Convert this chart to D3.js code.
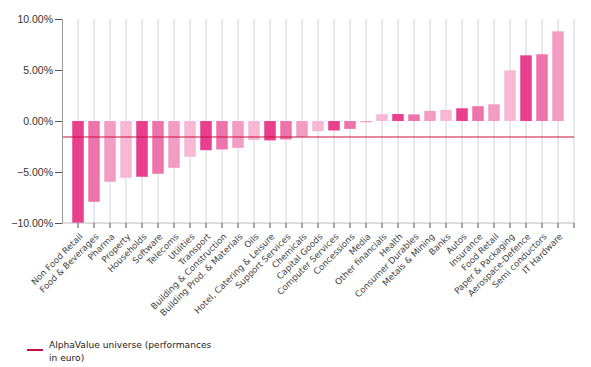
<!DOCTYPE html>
<html>
<head>
<meta charset="utf-8">
<script src="https://cdn.jsdelivr.net/npm/d3@7"></script>
<style>
html,body{margin:0;padding:0;background:#fff;}
svg{display:block;}
</style>
</head>
<body>
<svg id="chart" width="591" height="367"></svg>
<script>
const categories = ["Non Food Retail","Food & Beverages","Pharma","Property","Households","Software","Telecoms","Utilities","Transport","Building & Construction","Building Prod. & Materials","Oils","Hotel, Catering & Leisure","Support Services","Chemicals","Capital Goods","Computer Services","Concessions","Media","Other financials","Health","Consumer Durables","Metals & Mining","Banks","Autos","Insurance","Food Retail","Paper & Packaging","Aerospace-Defence","Semi conductors","IT Hardware"];
const performance = [-10.0,-7.92,-5.96,-5.57,-5.47,-5.17,-4.59,-3.51,-2.86,-2.79,-2.63,-1.88,-1.9,-1.81,-1.55,-1.0,-0.93,-0.77,-0.12,0.67,0.68,0.65,0.99,1.09,1.25,1.45,1.64,4.97,6.44,6.54,8.79];
const universe = -1.57;
const yTicks = [-10,-5,0,5,10];
const legendLabel = ["AlphaValue universe (performances","in euro)"];

const palette = ["#ea3f8f","#ef73ab","#f49bc3","#f8b7d4"];

const svg = d3.select("#chart");
const pLeft = 62, pRight = 574, pTop = 19, pBottom = 223;

const x = d3.scalePoint().domain(categories).range([pLeft, pRight]).padding(1);
const y = d3.scaleLinear().domain([-10, 10]).range([pBottom, pTop]);

// vertical gridlines
const gridX = categories.map(c => x(c)).concat([pRight]);
svg.append("g").selectAll("line").data(gridX).join("line")
  .attr("x1", d => d).attr("x2", d => d)
  .attr("y1", pTop).attr("y2", pBottom)
  .attr("stroke", "#d3d3d8").attr("stroke-width", 1);

// bars
const bw = 11.5;
svg.append("g").selectAll("rect").data(performance).join("rect")
  .attr("x", (d, i) => x(categories[i]) - bw / 2)
  .attr("width", bw)
  .attr("y", d => y(Math.max(0, d)))
  .attr("height", d => Math.abs(y(d) - y(0)))
  .attr("fill", (d, i) => palette[i % 4]);

// reference line
svg.append("line")
  .attr("x1", pLeft).attr("x2", pRight)
  .attr("y1", y(universe)).attr("y2", y(universe))
  .attr("stroke", "#c8103e").attr("stroke-width", 1.2);

// y axis
const yAxis = svg.append("g").attr("transform", `translate(${pLeft},0)`)
  .call(d3.axisLeft(y).tickValues(yTicks).tickSize(7).tickPadding(2).tickFormat(d => d3.format(".2f")(d) + "%"));
yAxis.select(".domain").attr("stroke", "#999");
yAxis.selectAll(".tick line").attr("stroke", "#555");
yAxis.selectAll("text").style("font-family", "'Liberation Sans', Arial, sans-serif").style("font-size", "10.5px").attr("fill", "#333");

// x axis
const xAxis = svg.append("g").attr("transform", `translate(0,${pBottom})`);
xAxis.append("line").attr("x1", pLeft).attr("x2", pRight).attr("y1", 0).attr("y2", 0).attr("stroke", "#bbb");
xAxis.selectAll("line.tk").data(gridX).join("line").attr("class", "tk")
  .attr("x1", d => d).attr("x2", d => d).attr("y1", 0).attr("y2", 5)
  .attr("stroke", "#555");
xAxis.selectAll("text").data(categories).join("text")
  .attr("transform", d => `translate(${x(d) + 3},${12}) rotate(-45)`)
  .attr("text-anchor", "end")
  .attr("dy", "0.35em")
  .style("font-family", "'DejaVu Sans', sans-serif")
  .style("font-size", "8.7px")
  .attr("fill", "#444")
  .text(d => d);

// legend
const lg = svg.append("g");
lg.append("line").attr("x1", 27).attr("x2", 43).attr("y1", 350).attr("y2", 350)
  .attr("stroke", "#c8103e").attr("stroke-width", 2);
lg.selectAll("text").data(legendLabel).join("text")
  .attr("x", 49).attr("y", (d, i) => 348 + i * 13)
  .style("font-family", "'DejaVu Sans', sans-serif")
  .style("font-size", "9.1px")
  .attr("fill", "#1a1a1a")
  .text(d => d);
</script>
</body>
</html>
